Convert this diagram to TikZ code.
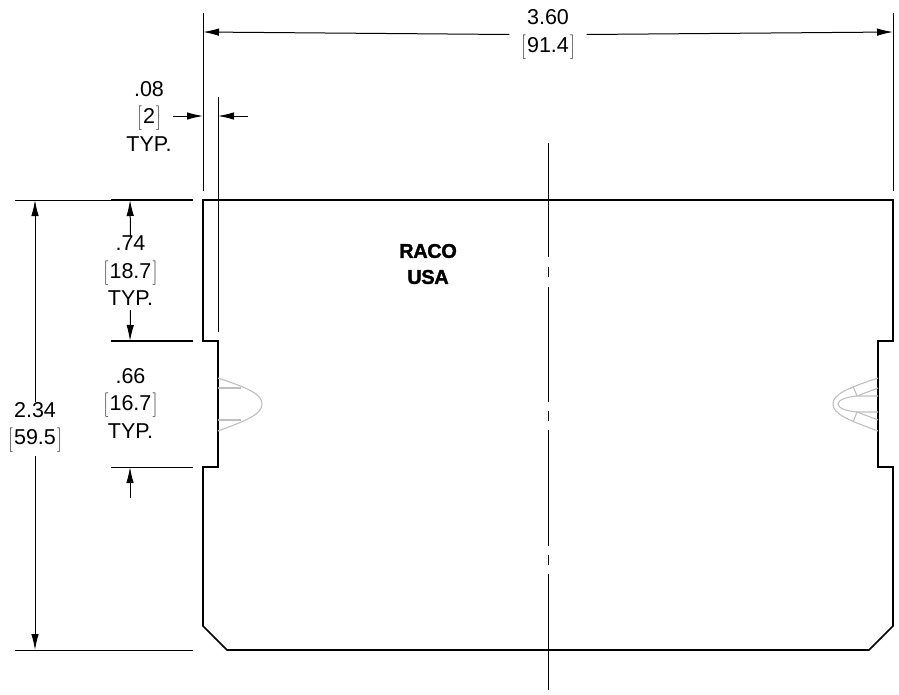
\documentclass[tikz,border=0pt]{standalone}
\usepackage{fontspec}
\setmainfont{Liberation Sans}
\newfontfamily\brandfont[FakeBold=1.5,LetterSpace=-2]{Liberation Sans Bold}
\usetikzlibrary{arrows.meta}
\newcommand{\dimbrk}[1]{$\left[\vcenter to 24pt{}\right.$#1$\left.\vcenter to 24pt{}\right]$}
\tikzset{x=1pt,y=-1pt,
	>={Latex[length=16pt,width=7.5pt]},
	outline/.style={line width=1.6pt,line join=miter},
	dimline/.style={line width=1pt},
	clipline/.style={line width=1.1pt,black!25},
	dimtext/.style={align=center,inner sep=0pt,font=\fontsize{21.5}{27.5}\selectfont},
	}

\begin{document}
\begin{tikzpicture}
	\useasboundingbox (0,0) rectangle (899,694);
	% part outline
	\draw[outline] (203,200) -- (893,200) -- (893,341) -- (878,341) -- (878,467) -- (893,467)
		-- (893,626) -- (869,650) -- (227,650) -- (203,626) -- (203,467) -- (218,467)
		-- (218,341) -- (203,341) -- cycle;
	% centre line
	\draw[dimline] (548,143) -- (548,257) (548,267) -- (548,277) (548,287) -- (548,402)
		(548,411) -- (548,421) (548,430) -- (548,546) (548,555) -- (548,565) (548,574) -- (548,690);
	% clips, left and right
	\draw[clipline] (218,378) .. controls (248,388) and (262,394) .. (262,404)
		.. controls (262,414) and (248,420) .. (218,431);
	\draw[clipline] (218,388) -- (241,388) (218,420) -- (241,420);
	\draw[clipline] (878,378) .. controls (848,388) and (833,394) .. (833,404)
		.. controls (833,414) and (848,420) .. (878,431);
	\draw[clipline] (878,396) -- (857,396) .. controls (846,397) and (838,400) .. (838,404)
		.. controls (838,408) and (846,411) .. (857,412) -- (878,412);
	\draw[clipline] (878,388) -- (857,396) -- (853,386) (878,420) -- (857,412) -- (853,422);
	% extension lines
	\coordinate (wideL) at (203,32);
	\coordinate (wideR) at (893,32);
	\coordinate (flangeL) at (203,116);
	\coordinate (flangeR) at (218,116);
	\coordinate (flangeEnd) at (248,116);
	\coordinate (highT) at (35,200);
	\coordinate (highB) at (35,650);
	\coordinate (tabT) at (130,200);
	\coordinate (tabB) at (130,341);
	\coordinate (slotB) at (130,467);
	\coordinate (slotEnd) at (130,498);
	\draw[dimline] (203,13) -- (203,191);
	\draw[dimline] (893,13) -- (893,191);
	\draw[dimline] (218,97) -- (218,332);
	\draw[dimline] (15,200) -- (111,200);
	\draw[outline] (111,200) -- (193,200);
	\draw[outline] (111,341) -- (193,341);
	\draw[dimline] (111,467) -- (193,467);
	\draw[dimline] (15,650) -- (193,650);
	% dimensions
	\node[dimtext] (dimWide) at (548,34.5) {3.60\\\dimbrk{91.4}};
	\node[dimtext] (dimFlange) at (149,116) {.08\\\dimbrk{2}\\TYP.};
	\node[dimtext] (dimHigh) at (35,427) {2.34\\\dimbrk{59.5}};
	\node[dimtext] (dimTab) at (130.5,271) {.74\\\dimbrk{18.7}\\TYP.};
	\node[dimtext] (dimSlot) at (130.5,403) {.66\\\dimbrk{16.7}\\TYP.};
	\node[align=center,inner sep=0pt,font=\fontsize{20}{26}\brandfont] (brand) at (428,264) {RACO\\USA};
	\draw[dimline,->] (dimWide.west) ++(-11,0) -- (wideL);
	\draw[dimline,->] (dimWide.east) ++(11,0) -- (wideR);
	\draw[dimline,->] (dimFlange.east) ++(1,0) -- (flangeL);
	\draw[dimline,->] (flangeEnd) -- (flangeR);
	\draw[dimline,->] (dimHigh.north) -- (highT);
	\draw[dimline,->] (dimHigh.south) ++(0,4) -- (highB);
	\draw[dimline,->] (dimTab.north) -- (tabT);
	\draw[dimline,->] (dimTab.south) ++(0,4) -- (tabB);
	\draw[dimline,->] (slotEnd) -- (slotB);
\end{tikzpicture}
\end{document}
